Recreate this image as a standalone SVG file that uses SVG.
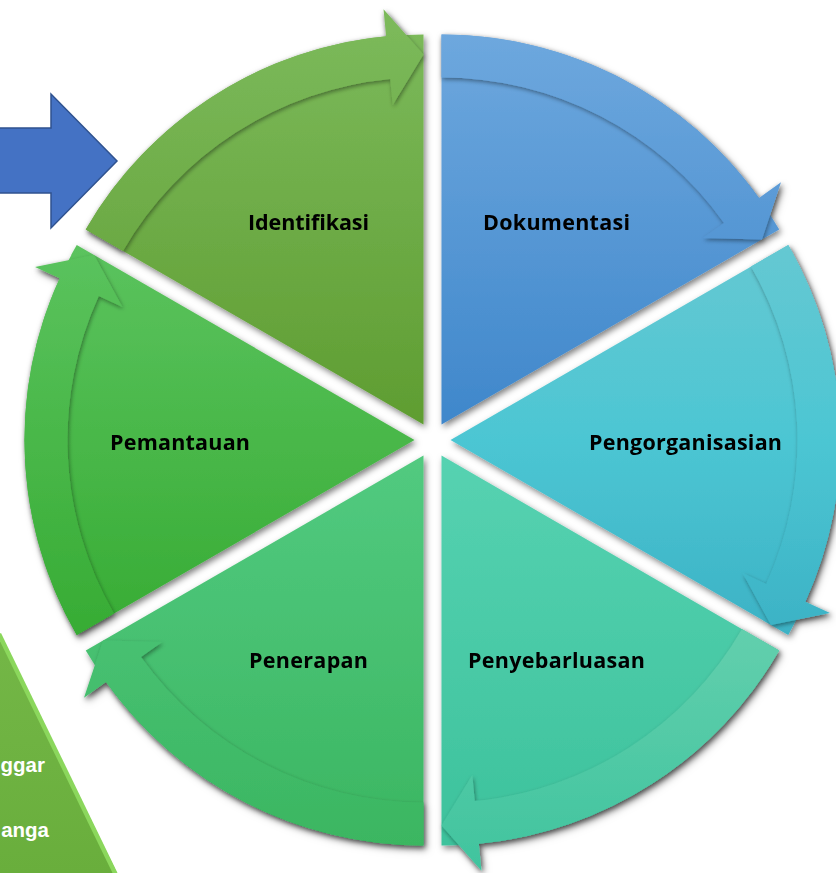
<svg xmlns="http://www.w3.org/2000/svg" width="836" height="873" viewBox="0 0 836 873">
<defs>
<filter id="sh" x="-10%" y="-10%" width="120%" height="120%">
<feDropShadow dx="2" dy="3" stdDeviation="3" flood-color="#000" flood-opacity="0.5"/>
</filter>
<filter id="ash" x="-10%" y="-10%" width="120%" height="120%">
<feDropShadow dx="1" dy="2" stdDeviation="2" flood-color="#000" flood-opacity="0.4"/>
</filter>
<linearGradient id="g1" gradientUnits="userSpaceOnUse" x1="0" y1="30" x2="0" y2="425"><stop offset="0" stop-color="#7bb95a"/><stop offset="1" stop-color="#5f9d31"/></linearGradient>
<linearGradient id="g2" gradientUnits="userSpaceOnUse" x1="0" y1="30" x2="0" y2="425"><stop offset="0" stop-color="#6ea8de"/><stop offset="1" stop-color="#3f87cb"/></linearGradient>
<linearGradient id="g3" gradientUnits="userSpaceOnUse" x1="0" y1="245" x2="0" y2="635"><stop offset="0" stop-color="#65c8d2"/><stop offset="0.5" stop-color="#4cc6d3"/><stop offset="1" stop-color="#3cb2c5"/></linearGradient>
<linearGradient id="g4" gradientUnits="userSpaceOnUse" x1="0" y1="456" x2="0" y2="846"><stop offset="0" stop-color="#56d2b1"/><stop offset="1" stop-color="#3dc29c"/></linearGradient>
<linearGradient id="g4a" gradientUnits="userSpaceOnUse" x1="0" y1="630" x2="0" y2="870"><stop offset="0" stop-color="#62cfad"/><stop offset="1" stop-color="#40c49e"/></linearGradient>
<linearGradient id="g5" gradientUnits="userSpaceOnUse" x1="0" y1="456" x2="0" y2="846"><stop offset="0" stop-color="#52ca80"/><stop offset="1" stop-color="#3bb661"/></linearGradient>
<linearGradient id="g6" gradientUnits="userSpaceOnUse" x1="0" y1="245" x2="0" y2="635"><stop offset="0" stop-color="#5bc35e"/><stop offset="1" stop-color="#37ac34"/></linearGradient>
<linearGradient id="gb" gradientUnits="userSpaceOnUse" x1="0" y1="630" x2="0" y2="873"><stop offset="0" stop-color="#74b747"/><stop offset="1" stop-color="#69ae3c"/></linearGradient>
</defs>
<style>
.lbl{font-family:"Open Sans","Liberation Sans",sans-serif;font-weight:700;font-size:21.5px;fill:#000}
.wt{font-family:"Liberation Sans",Arial,sans-serif;font-weight:700;font-size:20.5px;fill:#fff}
</style>
<rect width="836" height="873" fill="#fff"/>

<g id="side-shape">
<polygon points="0,634 117,873 0,873" fill="url(#gb)"/>
<line x1="-1" y1="634" x2="116" y2="875" stroke="#8bd75c" stroke-width="4.5"/>
<text class="wt" x="45" y="772" text-anchor="end">ggar</text>
<text class="wt" x="49" y="837" text-anchor="end">anga</text>
</g>

<g id="input-arrow">
<polygon points="-3,128 51,128 51,94 117,161 51,228 51,193 -3,193" fill="#4472c4" stroke="#2f528f" stroke-width="1.5"/>
</g>

<g id="identifikasi" filter="url(#sh)">
<path d="M423.5,424.41 L85.75,229.41 A390,390 0 0 1 423.5,34.41 Z" fill="url(#g1)"/>
<path d="M85.75,229.41 A390,390 0 0 1 386.12,36.2 L383.53,9.33 L423.5,54.41 L392.73,104.89 L390.24,79.01 A347,347 0 0 0 122.99,250.91 Z" fill="url(#g1)" filter="url(#ash)"/>
<text class="lbl" x="248" y="230" textLength="121" lengthAdjust="spacing">Identifikasi</text>
</g>

<g id="dokumentasi" filter="url(#sh)">
<path d="M441.5,424.41 L441.5,34.41 A390,390 0 0 1 779.25,229.41 Z" fill="url(#g2)"/>
<path d="M441.5,34.41 A390,390 0 0 1 759.01,197.94 L780.99,182.26 L761.93,239.41 L702.83,238 L724,222.91 A347,347 0 0 0 441.5,77.41 Z" fill="url(#g2)" filter="url(#ash)"/>
<text class="lbl" x="483" y="230" textLength="147" lengthAdjust="spacing">Dokumentasi</text>
</g>

<g id="pengorganisasian" filter="url(#sh)">
<path d="M450.5,440 L788.25,245 A390,390 0 0 1 788.25,635 Z" fill="url(#g3)"/>
<path d="M788.25,245 A390,390 0 0 1 805.39,601.73 L829.95,612.93 L770.93,625 L742.6,573.12 L766.26,583.9 A347,347 0 0 0 751.01,266.5 Z" fill="url(#g3)" filter="url(#ash)"/>
<text class="lbl" x="589" y="450" textLength="193" lengthAdjust="spacing">Pengorganisasian</text>
</g>

<g id="penyebarluasan" filter="url(#sh)">
<path d="M441.5,455.59 L779.25,650.59 A390,390 0 0 1 441.5,845.59 Z" fill="url(#g4)"/>
<path d="M779.25,650.59 A390,390 0 0 1 478.88,843.79 L481.47,870.67 L441.5,825.59 L472.27,775.11 L474.76,800.99 A347,347 0 0 0 742.01,629.09 Z" fill="url(#g4a)" filter="url(#ash)"/>
<text class="lbl" x="468" y="668" textLength="177" lengthAdjust="spacing">Penyebarluasan</text>
</g>

<g id="penerapan" filter="url(#sh)">
<path d="M423.5,455.59 L423.5,845.59 A390,390 0 0 1 85.75,650.59 Z" fill="url(#g5)"/>
<path d="M423.5,845.59 A390,390 0 0 1 105.99,682.06 L84.01,697.74 L103.07,640.59 L162.17,642 L141,657.09 A347,347 0 0 0 423.5,802.59 Z" fill="url(#g5)" filter="url(#ash)"/>
<text class="lbl" x="249" y="668" textLength="119" lengthAdjust="spacing">Penerapan</text>
</g>

<g id="pemantauan" filter="url(#sh)">
<path d="M414.5,440 L76.75,635 A390,390 0 0 1 76.75,245 Z" fill="url(#g6)"/>
<path d="M76.75,635 A390,390 0 0 1 59.62,278.27 L35.05,267.07 L94.07,255 L122.4,306.88 L98.74,296.1 A347,347 0 0 0 113.99,613.5 Z" fill="url(#g6)" filter="url(#ash)"/>
<text class="lbl" x="110" y="450" textLength="140" lengthAdjust="spacing">Pemantauan</text>
</g>

<g id="connectors"></g>
</svg>
